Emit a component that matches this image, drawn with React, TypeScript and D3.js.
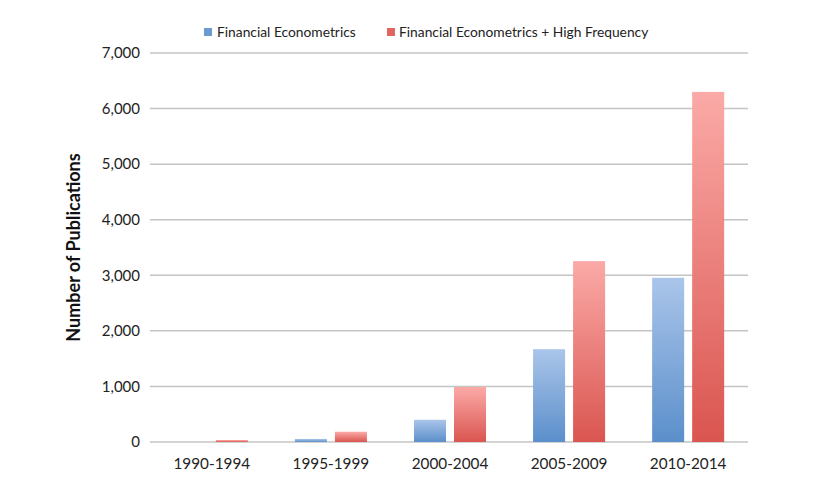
import React from "react"
import * as d3 from "d3"

const periods = ["1990-1994", "1995-1999", "2000-2004", "2005-2009", "2010-2014"]
const econometrics = [0, 55, 400, 1670, 2955]
const highFrequency = [35, 185, 990, 3255, 6300]
const yTicks = [0, 1000, 2000, 3000, 4000, 5000, 6000, 7000]
const seriesNames = ["Financial Econometrics", "Financial Econometrics + High Frequency"]

const width = 818
const height = 490
const margin = { top: 53, right: 70, bottom: 48, left: 152 }

const App: React.FC = () => {
  const x = d3
    .scaleBand<string>()
    .domain(periods)
    .range([margin.left, width - margin.right])
    .paddingInner(0.395)
    .paddingOuter(0.2)
  const y = d3
    .scaleLinear()
    .domain([0, 7000])
    .range([height - margin.bottom, margin.top])

  const gap = 8
  const barW = (x.bandwidth() - gap) / 2
  const font = "Lato, 'Open Sans', sans-serif"

  return (
    <svg width={width} height={height} style={{ display: "block", position: "absolute", left: 0, top: 0, background: "#fff" }} fontFamily={font}>
      <defs>
        <linearGradient id="gBlue" x1="0" y1="0" x2="0" y2="1">
          <stop offset="0%" stopColor="#aac5ea" />
          <stop offset="100%" stopColor="#5b8fcb" />
        </linearGradient>
        <linearGradient id="gRed" x1="0" y1="0" x2="0" y2="1">
          <stop offset="0%" stopColor="#fbaaa7" />
          <stop offset="100%" stopColor="#da5550" />
        </linearGradient>
      </defs>

      {yTicks.map((t) => (
        <g key={t}>
          <line
            x1={150}
            x2={width - margin.right}
            y1={y(t)}
            y2={y(t)}
            stroke="#c4c4c4"
            strokeWidth={1.5}
          />
          <text x={140} y={y(t)} dy="0.35em" textAnchor="end" fontSize={15} fill="#222">
            {d3.format(",")(t)}
          </text>
        </g>
      ))}

      {periods.map((p, i) => {
        const x0 = x(p) as number
        return (
          <g key={p}>
            <rect
              x={x0}
              y={y(econometrics[i])}
              width={barW}
              height={y(0) - y(econometrics[i])}
              fill="url(#gBlue)"
            />
            <rect
              x={x0 + barW + gap}
              y={y(highFrequency[i])}
              width={barW}
              height={y(0) - y(highFrequency[i])}
              fill="url(#gRed)"
            />
            <text x={x0 + x.bandwidth() / 2} y={y(0) + 22} dy="0.35em" textAnchor="middle" fontSize={15.3} fill="#222">
              {p}
            </text>
          </g>
        )
      })}

      <text
        transform={`translate(80,${(y(0) + y(7000)) / 2}) rotate(-90)`}
        textAnchor="middle"
        fontSize={18}
        fontWeight="bold"
        fill="#111"
      >
        Number of Publications
      </text>

      <g>
        <rect x={204} y={28} width={8} height={8} fill="#6c9bd2" />
        <text x={217} y={32} dy="0.35em" fontSize={13.8} fill="#222">{seriesNames[0]}</text>
        <rect x={387} y={28} width={8} height={8} fill="#e16662" />
        <text x={399} y={32} dy="0.35em" fontSize={13.8} fill="#222">{seriesNames[1]}</text>
      </g>
    </svg>
  )
}

export default App
